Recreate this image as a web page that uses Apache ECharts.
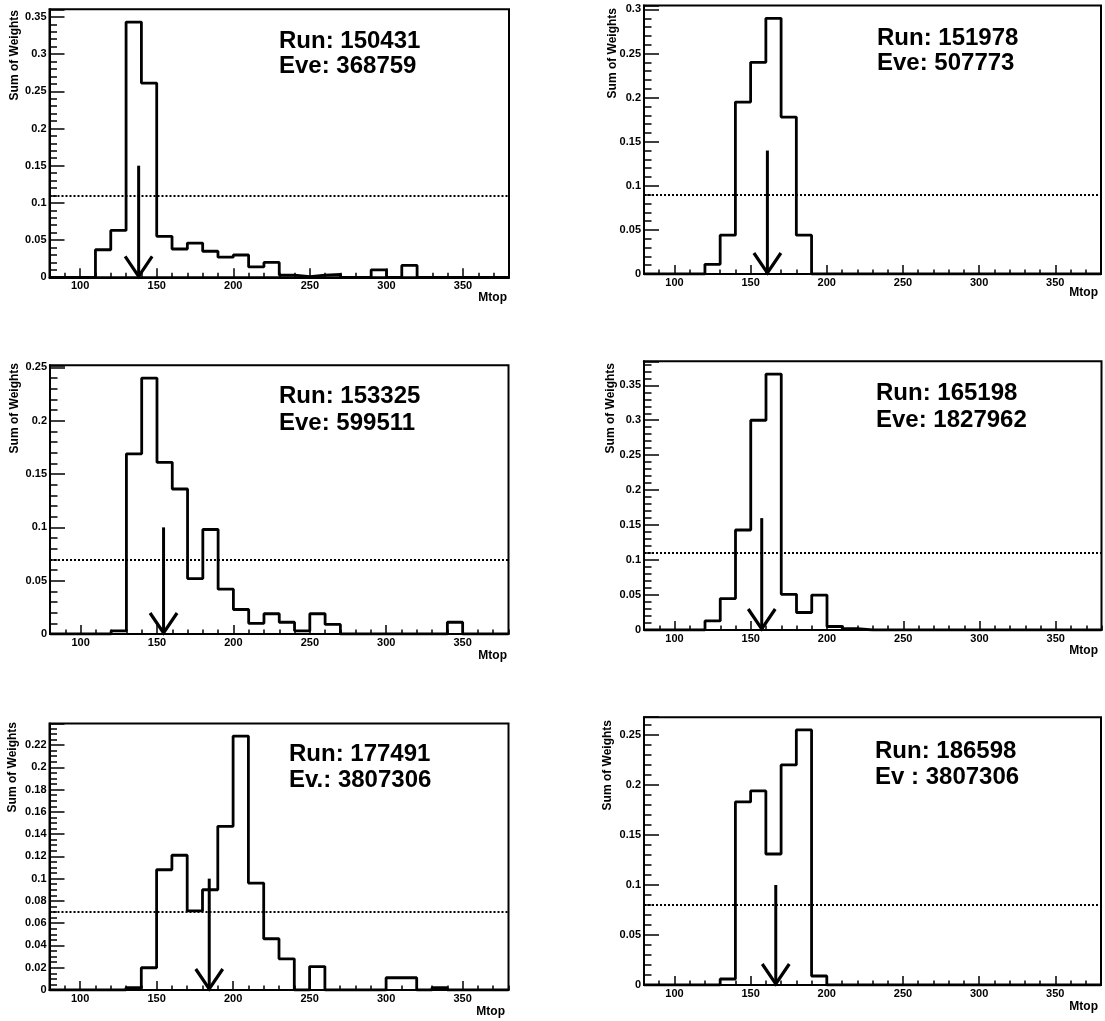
<!DOCTYPE html>
<html>
<head>
<meta charset="utf-8">
<title>Mtop per event</title>
<script src="https://cdn.jsdelivr.net/npm/echarts@6/dist/echarts.min.js"></script>
<style>
  html, body { margin: 0; padding: 0; background: #ffffff; }
  #chart { width: 1105px; height: 1021px; }
</style>
</head>
<body>
<div id="chart"></div>
<script>
// Mtop bin edges (10 GeV bins from 80 to 380)
const mtopEdges = [80, 90, 100, 110, 120, 130, 140, 150, 160, 170, 180, 190, 200, 210, 220,
                   230, 240, 250, 260, 270, 280, 290, 300, 310, 320, 330, 340, 350, 360, 370, 380];
const mtopTickLabels = [100, 150, 200, 250, 300, 350];

// Sum of weights per bin, one array per event (30 bins each)
const weightsRun150431 = [0, 0, 0, 0.037, 0.063, 0.343, 0.261, 0.055, 0.038, 0.046, 0.035, 0.027, 0.030, 0.014, 0.020,
                          0.003, 0.001, 0.003, 0.004, 0, 0, 0.010, 0, 0.016, 0, 0, 0, 0, 0, 0];
const weightsRun151978 = [0, 0, 0, 0, 0.011, 0.044, 0.195, 0.240, 0.290, 0.178, 0.044, 0, 0, 0, 0,
                          0, 0, 0, 0, 0, 0, 0, 0, 0, 0, 0, 0, 0, 0, 0];
const weightsRun153325 = [0, 0, 0, 0, 0.003, 0.169, 0.240, 0.161, 0.136, 0.052, 0.098, 0.042, 0.023, 0.010, 0.019,
                          0.011, 0.003, 0.019, 0.009, 0, 0, 0, 0, 0, 0, 0, 0.011, 0, 0, 0];
const weightsRun165198 = [0, 0, 0, 0, 0.013, 0.045, 0.143, 0.300, 0.366, 0.051, 0.025, 0.050, 0.005, 0.002, 0,
                          0, 0, 0, 0, 0, 0, 0, 0, 0, 0, 0, 0, 0, 0, 0];
const weightsRun177491 = [0, 0, 0, 0, 0, 0.002, 0.020, 0.108, 0.121, 0.071, 0.090, 0.147, 0.228, 0.096, 0.046,
                          0.028, 0, 0.021, 0, 0, 0, 0, 0.011, 0.011, 0, 0.002, 0, 0, 0, 0];
const weightsRun186598 = [0, 0, 0, 0, 0, 0.006, 0.183, 0.194, 0.131, 0.220, 0.255, 0.009, 0, 0, 0,
                          0, 0, 0, 0, 0, 0, 0, 0, 0, 0, 0, 0, 0, 0, 0];

// Reference level (dotted line) and fitted Mtop (arrow position, arrow height)
const referenceLevels = [0.106, 0.0915, 0.071, 0.112, 0.0695, 0.0767];
const fittedMtop      = [138.2, 161.0, 154.3, 157.2, 184.4, 166.5];
const arrowHeights    = [0.15, 0.14, 0.10, 0.16, 0.10, 0.10];

// Event labels
const runLabels   = ['Run: 150431', 'Run: 151978', 'Run: 153325', 'Run: 165198', 'Run: 177491', 'Run: 186598'];
const eventLabels = ['Eve: 368759', 'Eve: 507773', 'Eve: 599511', 'Eve: 1827962', 'Ev.: 3807306', 'Ev : 3807306'];

const panelWeights = [weightsRun150431, weightsRun151978, weightsRun153325,
                      weightsRun165198, weightsRun177491, weightsRun186598];

// Panel frames (pixels) and y-axis tick steps
const panelLayout = [
  { left: 49.5, top: 9.3,   width: 459.5, height: 268.0, step: 0.05, minor: 5 },
  { left: 644,  top: 5.5,   width: 457.0, height: 268.5, step: 0.05, minor: 5 },
  { left: 50,   top: 365.3, width: 458.5, height: 268.7, step: 0.05, minor: 5 },
  { left: 644,  top: 361.3, width: 457.5, height: 268.7, step: 0.05, minor: 5 },
  { left: 49.5, top: 723.4, width: 459.0, height: 266.6, step: 0.02, minor: 4 },
  { left: 644,  top: 717.2, width: 457.0, height: 267.8, step: 0.05, minor: 5 }
];
// Text anchors: [x, centre of line 1, centre of line 2], y-title anchor, x-title anchor
const textLayout = [
  { x: 279, y1: 41,    y2: 66.7,  ytX: 15,    ytY: 10,  xtX: 507,  xtY: 298 },
  { x: 877, y1: 38,    y2: 63.3,  ytX: 613,   ytY: 8,   xtX: 1098, xtY: 293 },
  { x: 279, y1: 396.7, y2: 423.3, ytX: 15,    ytY: 363, xtX: 507,  xtY: 655.7 },
  { x: 876, y1: 393.8, y2: 420,   ytX: 610.7, ytY: 363, xtX: 1098, xtY: 651 },
  { x: 289, y1: 754,   y2: 780,   ytX: 13,    ytY: 722, xtX: 505,  xtY: 1012 },
  { x: 875, y1: 751.3, y2: 777.5, ytX: 608,   ytY: 720, xtX: 1098, xtY: 1006.7 }
];

const FONT = "'Liberation Sans', Arial, Helvetica, sans-serif";
const INK = '#000000';

const grids = [], xAxes = [], yAxes = [], series = [], graphics = [];

panelLayout.forEach((p, i) => {
  const vals = panelWeights[i];
  const yMax = 1.05 * Math.max(...vals);

  grids.push({
    left: p.left, top: p.top, width: p.width, height: p.height,
    show: true, borderColor: INK, borderWidth: 2, backgroundColor: 'transparent',
    containLabel: false, outerBoundsMode: 'none'
  });

  // bin-width ticks carrying the labels
  xAxes.push({
    type: 'value', gridIndex: i, position: 'bottom', min: 80, max: 380, interval: 10,
    axisLine: { show: true, onZero: false, lineStyle: { color: INK, width: 2 } },
    axisTick: { show: true, inside: true, length: 4.5, lineStyle: { color: INK, width: 1.5 } },
    axisLabel: {
      color: INK, fontFamily: FONT, fontWeight: 'bold', fontSize: 11, margin: 3,
      formatter: v => (mtopTickLabels.indexOf(v) >= 0 ? String(v) : '')
    },
    splitLine: { show: false }
  });
  // long ticks at the labelled values
  xAxes.push({
    type: 'value', gridIndex: i, position: 'bottom', min: 80, max: 380,
    axisLine: { show: false },
    axisTick: { show: true, inside: true, length: 9, customValues: mtopTickLabels,
                lineStyle: { color: INK, width: 1.5 } },
    axisLabel: { show: false },
    splitLine: { show: false }
  });

  yAxes.push({
    type: 'value', gridIndex: i, min: 0, max: yMax, interval: p.step,
    axisLine: { show: true, lineStyle: { color: INK, width: 2 } },
    axisTick: { show: true, inside: true, length: 15, lineStyle: { color: INK, width: 1.5 } },
    minorTick: { show: true, splitNumber: p.minor, length: 7.5, lineStyle: { color: INK, width: 1.5 } },
    axisLabel: {
      color: INK, fontFamily: FONT, fontWeight: 'bold', fontSize: 11, margin: 3,
      showMaxLabel: false
    },
    splitLine: { show: false },
    minorSplitLine: { show: false }
  });

  // histogram outline
  series.push({
    type: 'line', xAxisIndex: 2 * i, yAxisIndex: i,
    step: 'end', symbol: 'none', silent: true,
    data: mtopEdges.map((e, k) => [e, vals[Math.min(k, vals.length - 1)]]),
    lineStyle: { color: INK, width: 2.8 },
    markLine: {
      silent: true, symbol: ['none', 'none'], label: { show: false },
      lineStyle: { color: INK, width: 2, type: [2, 2] },
      emphasis: { disabled: true },
      data: [{ yAxis: referenceLevels[i] }]
    },
    z: 3
  });

  // arrow at the fitted Mtop
  series.push({
    type: 'custom', xAxisIndex: 2 * i, yAxisIndex: i, silent: true, clip: false,
    data: [[fittedMtop[i], arrowHeights[i]]],
    renderItem: (params, api) => {
      const top = api.coord([api.value(0), api.value(1)]);
      const tip = api.coord([api.value(0), 0]);
      return {
        type: 'group',
        children: [
          { type: 'line', shape: { x1: top[0], y1: top[1], x2: tip[0], y2: tip[1] },
            style: { stroke: INK, lineWidth: 3 } },
          { type: 'polyline',
            shape: { points: [[tip[0] - 13.5, tip[1] - 21], [tip[0], tip[1] - 1], [tip[0] + 13.5, tip[1] - 21]] },
            style: { stroke: INK, lineWidth: 3.2, fill: null, lineJoin: 'miter' } }
        ]
      };
    },
    z: 4
  });

  const t = textLayout[i];
  graphics.push(
    { type: 'text', x: t.x, y: t.y1, silent: true,
      style: { text: runLabels[i], fill: INK, font: `bold 24px ${FONT}`, align: 'left', verticalAlign: 'middle' } },
    { type: 'text', x: t.x, y: t.y2, silent: true,
      style: { text: eventLabels[i], fill: INK, font: `bold 24px ${FONT}`, align: 'left', verticalAlign: 'middle' } },
    { type: 'text', x: t.ytX, y: t.ytY, rotation: Math.PI / 2, silent: true,
      style: { text: 'Sum of Weights', fill: INK, font: `bold 12px ${FONT}`, align: 'right', verticalAlign: 'middle' } },
    { type: 'text', x: t.xtX, y: t.xtY, silent: true,
      style: { text: 'Mtop', fill: INK, font: `bold 12px ${FONT}`, align: 'right', verticalAlign: 'middle' } }
  );
});

const chart = echarts.init(document.getElementById('chart'), null, { renderer: 'canvas' });
chart.setOption({
  animation: false,
  backgroundColor: '#ffffff',
  grid: grids,
  xAxis: xAxes,
  yAxis: yAxes,
  series: series,
  graphic: graphics
});
</script>
</body>
</html>
